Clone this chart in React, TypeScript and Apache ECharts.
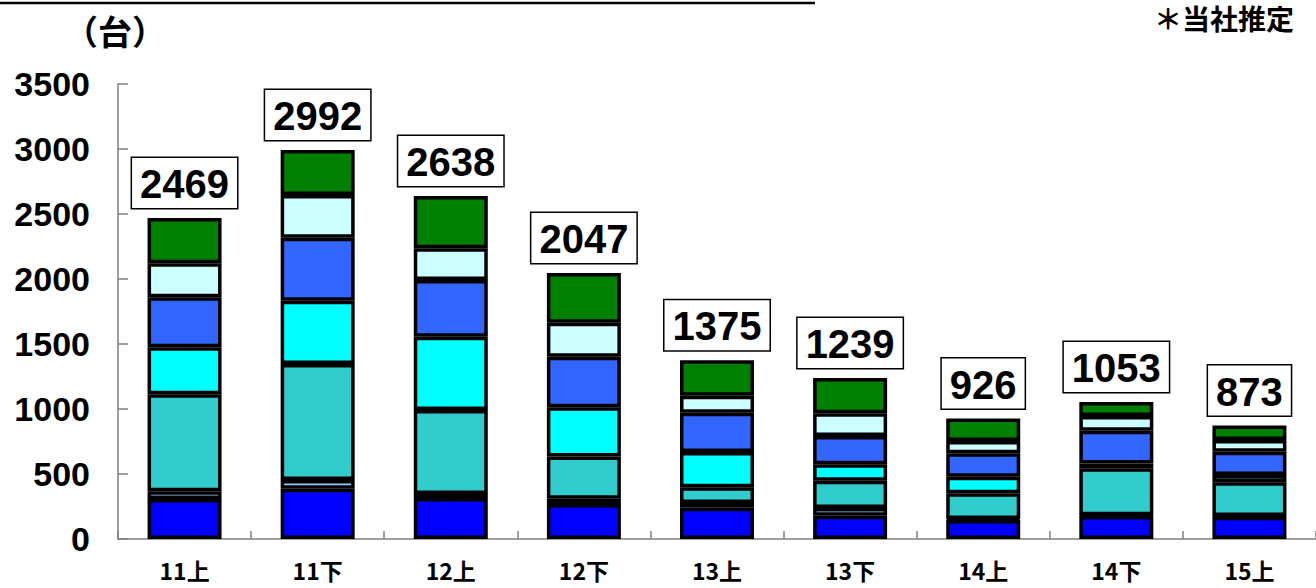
import React, { useEffect, useRef } from "react";
import * as echarts from "echarts";

const categories = ["11上", "11下", "12上", "12下", "13上", "13下", "14上", "14下", "15上"];
const blue = [308, 387, 315, 270, 241, 179, 146, 177, 172];
const lightBlue = [59, 67, 31, 40, 36, 59, 8, 5, 5];
const teal = [746, 892, 646, 325, 121, 210, 198, 363, 259];
const cyan = [362, 487, 564, 378, 271, 127, 127, 35, 56];
const royal = [384, 485, 436, 389, 303, 217, 180, 253, 180];
const lightCyan = [262, 328, 244, 262, 130, 175, 95, 113, 90];
const green = [348, 346, 402, 383, 273, 272, 172, 107, 111];
const totals = [2469, 2992, 2638, 2047, 1375, 1239, 926, 1053, 873];
const yTicks = [0, 500, 1000, 1500, 2000, 2500, 3000, 3500];

const layers = [
  { name: "s1", data: blue, color: "#0000FF" },
  { name: "s2", data: lightBlue, color: "#99CCFF" },
  { name: "s3", data: teal, color: "#33CCCC" },
  { name: "s4", data: cyan, color: "#00FFFF" },
  { name: "s5", data: royal, color: "#3366FF" },
  { name: "s6", data: lightCyan, color: "#CCFFFF" },
  { name: "s7", data: green, color: "#008000" },
];

export default function App() {
  const ref = useRef<HTMLDivElement>(null);
  useEffect(() => {
    if (!ref.current) return;
    const chart = echarts.init(ref.current, null, { renderer: "svg" });
    const series = layers.map((l, i) => ({
      name: l.name,
      type: "bar",
      stack: "total",
      data: l.data,
      barWidth: 74,
      itemStyle: { color: l.color, borderColor: "#000", borderWidth: 3.5 },
      label:
        i === layers.length - 1
          ? {
              show: true,
              position: "top",
              distance: 10,
              formatter: (p: any) => String(totals[p.dataIndex]),
              fontFamily: "Liberation Sans, Arial, sans-serif",
              fontSize: 40,
              fontWeight: "bold",
              color: "#000",
              backgroundColor: "#fff",
              borderColor: "#000",
              borderWidth: 1.5,
              padding: [5, 8, 3, 8],
              lineHeight: 42,
            }
          : { show: false },
    }));
    chart.setOption({
      animation: false,
      grid: { left: 118, top: 84, bottom: 49, width: 1215 },
      xAxis: {
        type: "category",
        data: categories,
        axisLine: { lineStyle: { color: "#808080", width: 1.5 } },
        axisTick: { show: true, inside: true, length: 8, lineStyle: { color: "#808080", width: 1.5 } },
        axisLabel: {
          margin: 19,
          fontFamily: "Noto Sans CJK JP, sans-serif",
          fontSize: 23,
          fontWeight: "bold",
          color: "#000",
        },
      },
      yAxis: {
        type: "value",
        min: yTicks[0],
        max: yTicks[yTicks.length - 1],
        interval: 500,
        axisLine: { show: true, lineStyle: { color: "#808080", width: 1.5 } },
        axisTick: { show: true, inside: true, length: 10, lineStyle: { color: "#808080", width: 1.5 } },
        splitLine: { show: false },
        axisLabel: {
          margin: 28,
          formatter: (v: number) => String(v),
          fontFamily: "Liberation Sans, Arial, sans-serif",
          fontSize: 34,
          fontWeight: "bold",
          color: "#000",
        },
      },
      graphic: [
        { type: "line", shape: { x1: 0, y1: 3, x2: 815, y2: 3 }, style: { stroke: "#000", lineWidth: 2.5 } },
        {
          type: "text",
          left: 64,
          top: 13,
          style: {
            text: "（台）",
            font: "bold 34px 'Noto Sans CJK JP', sans-serif",
            fill: "#000",
          },
        },
        {
          type: "text",
          x: 1294,
          y: 18,
          style: {
            text: "＊当社推定",
            font: "bold 28px 'Noto Sans CJK JP', sans-serif",
            fill: "#000",
            align: "right",
            verticalAlign: "middle",
          },
        },
      ],
      series,
    });
    return () => chart.dispose();
  }, []);
  return (
    <div
      ref={ref}
      style={{ position: "fixed", left: 0, top: 0, width: 1316, height: 588, background: "#fff" }}
    />
  );
}
